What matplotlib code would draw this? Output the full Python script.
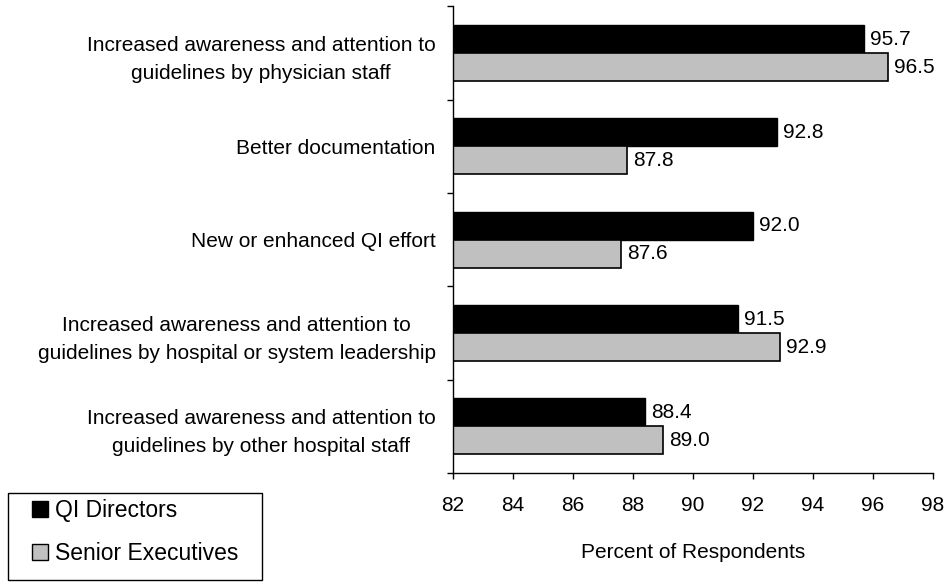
import matplotlib
matplotlib.use("Agg")
import matplotlib.pyplot as plt
import numpy as np
from matplotlib.patches import Patch, Rectangle

plt.rcParams['font.family'] = ['Liberation Sans', 'DejaVu Sans']

categories = [
    "Increased awareness and attention to\nguidelines by physician staff",
    "Better documentation",
    "New or enhanced QI effort",
    "Increased awareness and attention to\nguidelines by hospital or system leadership",
    "Increased awareness and attention to\nguidelines by other hospital staff",
]
qi_directors = [95.7, 92.8, 92.0, 91.5, 88.4]
senior_execs = [96.5, 87.8, 87.6, 92.9, 89.0]
series_names = ["QI Directors", "Senior Executives"]
x_ticks = [82, 84, 86, 88, 90, 92, 94, 96, 98]

FS = 15
LFS = 16.5
fig = plt.figure(figsize=(9.48, 5.83), dpi=100)
ax = fig.add_axes([453/948, 1-473/583, (933-453)/948, (473-6.5)/583])

y = np.arange(len(categories))
h = 0.3
ax.barh(y - h/2, qi_directors, height=h, color='black', edgecolor='black', linewidth=1.0, label=series_names[0])
ax.barh(y + h/2, senior_execs, height=h, color='#C0C0C0', edgecolor='black', linewidth=1.2, label=series_names[1])

for yy, v in zip(y - h/2, qi_directors):
    ax.annotate(f"{v:.1f}", xy=(v, yy), xytext=(4.5, 0), textcoords='offset points',
                va='center', ha='left', fontsize=FS)
for yy, v in zip(y + h/2, senior_execs):
    ax.annotate(f"{v:.1f}", xy=(v, yy), xytext=(4.5, 0), textcoords='offset points',
                va='center', ha='left', fontsize=FS)

ax.set_xlim(x_ticks[0], x_ticks[-1])
ax.set_ylim(len(categories) - 0.5, -0.5)
ax.set_xticks(x_ticks)
ax.set_xticklabels([str(t) for t in x_ticks], fontsize=FS)
ax.set_yticks(y)
ax.set_yticklabels(categories, fontsize=FS, multialignment='center', linespacing=1.6)
ax.set_yticks(np.arange(-0.5, len(categories)), minor=True)
ax.tick_params(axis='y', which='major', length=0, pad=12.5)
ax.tick_params(axis='y', which='minor', length=4.5, width=1, direction='out')
ax.tick_params(axis='x', which='major', length=4.5, width=1, direction='out', pad=12)

for s in ['top', 'right']:
    ax.spines[s].set_visible(False)
for s in ['left', 'bottom']:
    ax.spines[s].set_linewidth(1)
    ax.spines[s].set_color('black')

ax.set_xlabel("Percent of Respondents", fontsize=FS, labelpad=20)

# legend frame
fig.patches.append(Rectangle((8/948, 3/583), 254/948, 87/583, transform=fig.transFigure,
                             fill=False, edgecolor='black', linewidth=1))
handles = [Patch(facecolor='black', edgecolor='black'),
           Patch(facecolor='#C0C0C0', edgecolor='black')]
leg = fig.legend(handles, series_names, loc='upper left',
                 bbox_to_anchor=(32/948, 1-499/583), bbox_transform=fig.transFigure,
                 fontsize=LFS, frameon=False,
                 handlelength=0.7, handleheight=0.7, handletextpad=0.3,
                 labelspacing=0.88, borderpad=0, borderaxespad=0)

fig.savefig("out.png", dpi=100)
